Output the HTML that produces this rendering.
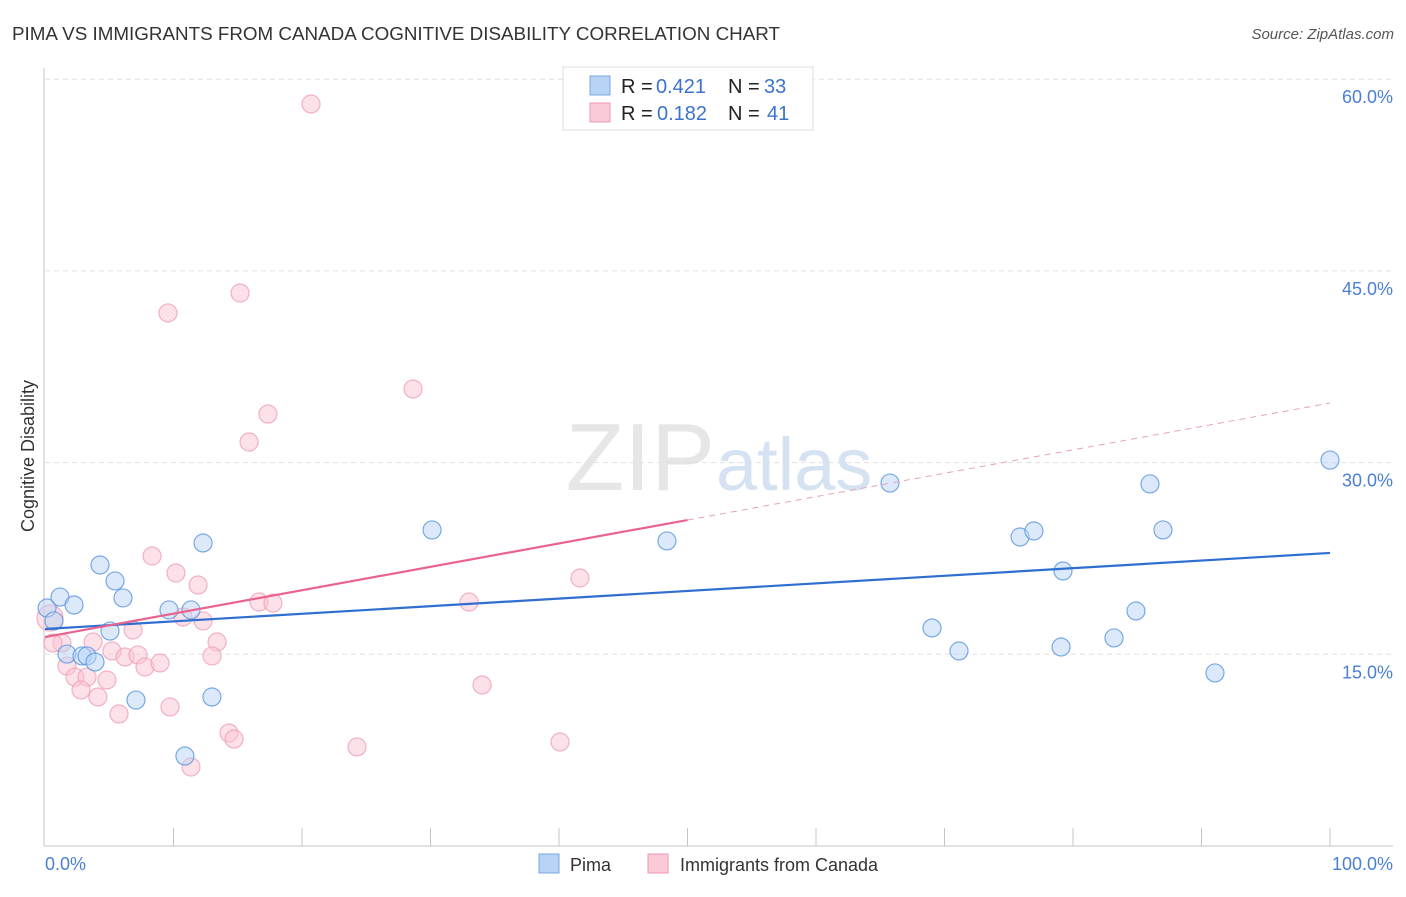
<!DOCTYPE html>
<html><head><meta charset="utf-8"><style>
body{margin:0;background:#fff;font-family:"Liberation Sans",sans-serif}
svg text{font-family:"Liberation Sans",sans-serif}
</style></head><body>
<svg id="c" width="1406" height="892">
<text x="12" y="40" font-size="18" fill="#333" textLength="768" lengthAdjust="spacingAndGlyphs">PIMA VS IMMIGRANTS FROM CANADA COGNITIVE DISABILITY CORRELATION CHART</text>
<text x="1394" y="39" font-size="15" fill="#555" text-anchor="end" font-style="italic">Source: ZipAtlas.com</text>
<text x="715" y="490" font-size="96" fill="#e6e6e6" text-anchor="end" font-family="Liberation Serif">ZIP</text>
<text x="716" y="490" font-size="74" fill="#d5e2f2">atlas</text>
<g id="grid"></g><g id="axes"></g><g id="pts"></g><g id="lines"></g>
<text x="34" y="456" font-size="18" fill="#333" text-anchor="middle" transform="rotate(-90 34 456)">Cognitive Disability</text>
<text x="45" y="870" font-size="18" fill="#4a7fd4">0.0%</text>
<text x="1393" y="870" font-size="18" fill="#4a7fd4" text-anchor="end">100.0%</text>
<g>
<rect x="563" y="67" width="250" height="63" fill="#fff" stroke="#ddd"/>
<rect x="590" y="76" width="20" height="19" fill="#b7d3f5" stroke="#7aa7e0"/>
<rect x="590" y="103" width="20" height="19" fill="#fcc9d7" stroke="#ee97b0"/>
<text x="621" y="93" font-size="20" fill="#222">R =</text>
<text x="656" y="93" font-size="20" fill="#3b73cc">0.421</text>
<text x="728" y="93" font-size="20" fill="#222">N =</text>
<text x="764" y="93" font-size="20" fill="#3b73cc">33</text>
<text x="621" y="120" font-size="20" fill="#222">R =</text>
<text x="657" y="120" font-size="20" fill="#3b73cc">0.182</text>
<text x="728" y="120" font-size="20" fill="#222">N =</text>
<text x="767" y="120" font-size="20" fill="#3b73cc">41</text>
</g>
<g>
<rect x="539" y="854" width="20" height="19" fill="#b7d3f5" stroke="#7aa7e0"/>
<text x="570" y="871" font-size="18" fill="#333">Pima</text>
<rect x="648" y="854" width="20" height="19" fill="#fcc9d7" stroke="#ee97b0"/>
<text x="680" y="871" font-size="18" fill="#333">Immigrants from Canada</text>
</g>
</svg>
<script>
const yTicks=[15,30,45,60];
const yTickLabels=["15.0%","30.0%","45.0%","60.0%"];
const xTicks=[10,20,30,40,50,60,70,80,90,100];
const pimaX=[0.16,0.70,1.17,2.26,1.71,2.88,3.27,3.89,4.28,5.06,5.45,6.07,7.08,9.65,10.89,11.36,12.30,12.99,30.12,48.40,65.76,69.03,71.13,75.88,76.96,79.22,79.07,83.19,84.90,85.99,87.00,91.05,100];
const pimaY=[18.62,17.61,19.48,18.86,15.02,14.87,14.87,14.40,21.99,16.82,20.74,19.41,11.42,18.47,7.04,18.47,23.71,11.66,24.73,23.87,28.40,17.06,15.26,24.18,24.65,21.52,15.57,16.28,18.39,28.33,24.73,13.54,30.20];
const canX=[8.33,10.19,11.91,16.65,17.74,0.39,6.85,3.74,1.32,0.62,5.21,6.23,7.24,7.78,8.95,10.74,12.30,13.39,13.00,1.71,2.33,3.27,2.80,4.82,4.12,5.76,9.73,14.32,14.71,11.36,20.70,15.18,9.57,17.35,15.88,28.64,24.28,33.00,34.01,40.08,41.63];
const canY=[22.69,21.36,20.42,19.09,19.01,17.84,16.90,15.96,15.88,15.88,15.26,14.79,14.95,14.01,14.32,17.92,17.61,15.96,14.87,14.08,13.22,13.22,12.21,12.99,11.66,10.33,10.88,8.84,8.37,6.18,58.06,43.27,41.71,33.80,31.61,35.76,7.75,19.09,12.60,8.14,20.97];
const pimaTrend=[16.98,22.93];
const canTrend=[16.35,34.66];
const canSolidEnd=50;
const X=v=>45+v*12.85, Y=v=>846-v*12.78;
const NS="http://www.w3.org/2000/svg";
function mk(t,p,a){const e=document.createElementNS(NS,t);for(const k in a)e.setAttribute(k,a[k]);p.appendChild(e);return e;}
const g=document.getElementById('grid'),ax=document.getElementById('axes'),pts=document.getElementById('pts'),ln=document.getElementById('lines');
yTicks.forEach((t,i)=>{
 const l=mk('line',g,{x1:45,x2:1393,y1:Y(t),y2:Y(t),stroke:'#e0e0e0','stroke-dasharray':'5,4'});
 
 
 const tx=mk('text',g,{x:1393,y:Y(t)+24,'font-size':18,fill:'#4a7fd4','text-anchor':'end'});
 tx.textContent=yTickLabels[i];
 
 
});
const a1=mk('line',ax,{x1:44,x2:44,y1:68,y2:846,stroke:'#c4c4c4'});


const a2=mk('line',ax,{x1:44,x2:1393,y1:846,y2:846,stroke:'#c4c4c4'});


xTicks.forEach(t=>{const l=mk('line',ax,{x1:X(t),x2:X(t),y1:828,y2:846,stroke:'#c4c4c4'});
 
 });
function dots(xs,ys,fill,stroke,name){xs.forEach((x,i)=>{const c=mk('circle',pts,{cx:X(x),cy:Y(ys[i]),r:(name==='canada-point'&&i===5)?13:9,fill:fill,'fill-opacity':0.5,stroke:stroke,'stroke-opacity':0.8,'stroke-width':1.2});
 
 });}
dots(canX,canY,'#fbc3d3','#eea0b8','canada-point');
dots(pimaX,pimaY,'#b7d3f5','#5d95de','pima-point');
const pl=mk('line',ln,{x1:X(0),y1:Y(pimaTrend[0]),x2:X(100),y2:Y(pimaTrend[1]),stroke:'#2f6fd0','stroke-width':2.2});


const ym=canTrend[0]+(canTrend[1]-canTrend[0])*canSolidEnd/100;
const cl=mk('line',ln,{x1:X(0),y1:Y(canTrend[0]),x2:X(canSolidEnd),y2:Y(ym),stroke:'#e8648f','stroke-width':2.2});


const cd=mk('line',ln,{x1:X(canSolidEnd),y1:Y(ym),x2:X(100),y2:Y(canTrend[1]),stroke:'#e8a0b8','stroke-width':1,'stroke-dasharray':'6,5'});


</script>
</body></html>
